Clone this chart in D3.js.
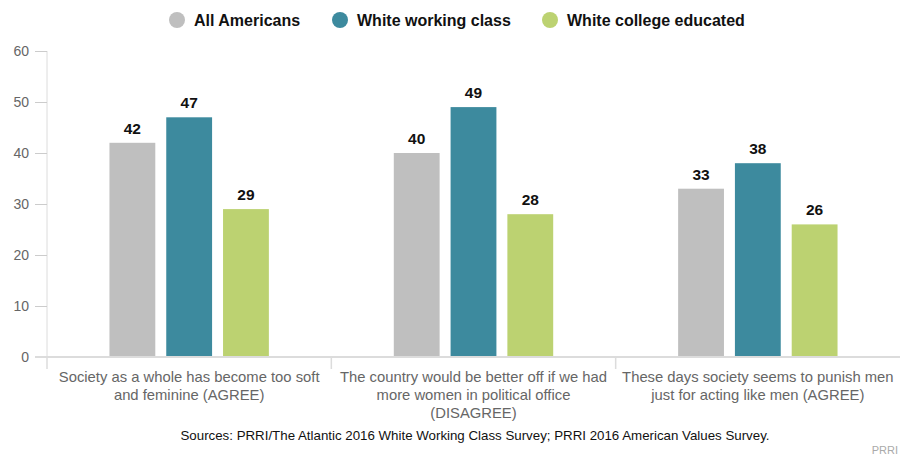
<!DOCTYPE html>
<html>
<head>
<meta charset="utf-8">
<script src="https://cdn.jsdelivr.net/npm/d3@7"></script>
<style>
  html, body { margin: 0; padding: 0; background: #fff; }
  svg { display: block; font-family: "Liberation Sans", Arial, Helvetica, sans-serif; }
</style>
</head>
<body>
<svg id="chart" width="900" height="457"></svg>
<script>
// Survey statements (wrapped lines) and the share of each group that responded
const categories = [
  ["Society as a whole has become too soft", "and feminine (AGREE)"],
  ["The country would be better off if we had", "more women in political office", "(DISAGREE)"],
  ["These days society seems to punish men", "just for acting like men (AGREE)"]
];
const seriesNames = ["All Americans", "White working class", "White college educated"];
const allAmericans = [42, 40, 33];
const whiteWorkingClass = [47, 49, 38];
const whiteCollegeEducated = [29, 28, 26];
const yTicks = [0, 10, 20, 30, 40, 50, 60];
const colors = ["#bfbfbf", "#3d8a9e", "#bcd271"];
const sourceNote = "Sources: PRRI/The Atlantic 2016 White Working Class Survey; PRRI 2016 American Values Survey.";
const credit = "PRRI";

const seriesValues = [allAmericans, whiteWorkingClass, whiteCollegeEducated];

const svg = d3.select("#chart");
const W = 900, H = 457;
const m = { left: 47, right: 0, top: 51, bottom: 100 };

const keys = categories.map((c, i) => i);
const x0 = d3.scaleBand().domain(keys).range([m.left, W - m.right]).padding(0);
const x1 = d3.scaleBand().domain(seriesNames).range([0, x0.bandwidth()])
  .paddingInner(0.193).paddingOuter(1.1);
const y = d3.scaleLinear().domain([0, 60]).range([357, 51]);

// Y axis
const yAxis = svg.append("g").attr("transform", `translate(${m.left},0)`)
  .call(d3.axisLeft(y).tickValues(yTicks).tickSize(12).tickPadding(6));
yAxis.select(".domain").attr("stroke", "#dcdcdc").attr("d", `M0,${y(60)}V${y(0)}`);
yAxis.selectAll(".tick line").attr("stroke", "#cccccc");
yAxis.selectAll(".tick text").attr("fill", "#666").style("font-size", "14px")
  .style("font-family", "'Liberation Sans', Arial, sans-serif");

// Bars
const groups = svg.append("g").selectAll("g").data(keys).join("g")
  .attr("transform", d => `translate(${x0(d)},0)`);

groups.selectAll("rect")
  .data(i => seriesNames.map((s, j) => ({ s, j, v: seriesValues[j][i] })))
  .join("rect")
  .attr("x", d => x1(d.s))
  .attr("width", x1.bandwidth())
  .attr("y", d => y(d.v))
  .attr("height", d => y(0) - y(d.v))
  .attr("fill", d => colors[d.j]);

groups.selectAll("text.val")
  .data(i => seriesNames.map((s, j) => ({ s, j, v: seriesValues[j][i] })))
  .join("text")
  .attr("class", "val")
  .attr("x", d => x1(d.s) + x1.bandwidth() / 2)
  .attr("y", d => y(d.v) - 9)
  .attr("text-anchor", "middle")
  .attr("font-weight", "bold")
  .attr("font-size", 15.5)
  .attr("fill", "#111")
  .text(d => d.v);

// X axis baseline and category separators
const xAxis = svg.append("g").attr("transform", `translate(0,${y(0)})`)
  .call(d3.axisBottom(x0).tickSize(12).tickFormat(() => ""));
xAxis.select(".domain").attr("stroke", "#dcdcdc").attr("stroke-width", 2)
  .attr("d", `M${m.left - 12},0H${W}`);
xAxis.selectAll(".tick").attr("transform", d => `translate(${x0(d)},0)`);
xAxis.selectAll(".tick line").attr("stroke", "#dcdcdc").attr("stroke-width", 1.5);

// Category labels
const catLabels = svg.append("g").selectAll("text").data(keys).join("text")
  .attr("x", d => x0(d) + x0.bandwidth() / 2)
  .attr("y", 382)
  .attr("text-anchor", "middle")
  .attr("font-size", 14.8)
  .attr("fill", "#666");
catLabels.selectAll("tspan").data(d => categories[d]).join("tspan")
  .attr("x", function () { return d3.select(this.parentNode).attr("x"); })
  .attr("dy", (d, i) => i === 0 ? 0 : 18)
  .text(d => d);

// Legend
const legendX = [177, 340, 550];
const legend = svg.append("g").selectAll("g").data(seriesNames).join("g")
  .attr("transform", (d, i) => `translate(${legendX[i]},20)`);
legend.append("circle").attr("r", 8).attr("fill", (d, i) => colors[i]);
legend.append("text").attr("x", 17).attr("dy", "0.35em")
  .attr("font-size", 16).attr("font-weight", "bold").attr("fill", "#111")
  .text(d => d);

// Source note and credit
svg.append("text").attr("x", 475).attr("y", 440).attr("text-anchor", "middle")
  .attr("font-size", 13.3).attr("fill", "#111").text(sourceNote);
svg.append("text").attr("x", W - 2).attr("y", 454).attr("text-anchor", "end")
  .attr("font-size", 11).attr("fill", "#aaa").text(credit);
</script>
</body>
</html>
